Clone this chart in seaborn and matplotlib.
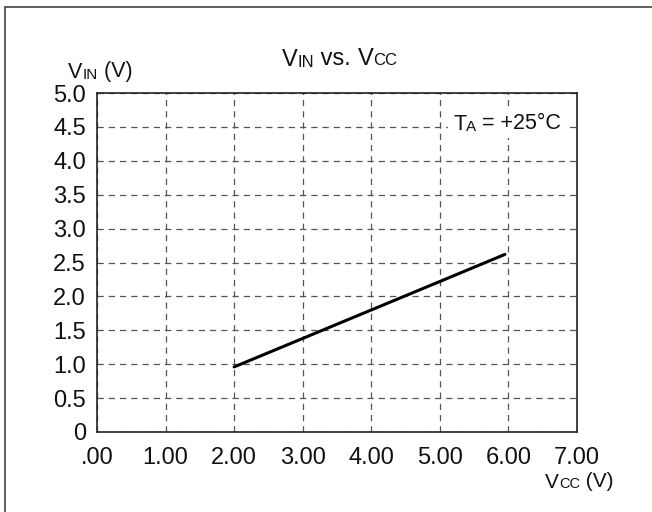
import matplotlib
matplotlib.use('Agg')
import matplotlib.pyplot as plt
from matplotlib.lines import Line2D
from matplotlib.patches import Rectangle
from matplotlib.transforms import IdentityTransform
import seaborn as sns
import pandas as pd

# data
vcc = [2.0, 3.0, 4.0, 5.0, 5.95]
vin = [0.96, 1.38, 1.80, 2.22, 2.62]
x_ticks = [0, 1, 2, 3, 4, 5, 6, 7]
x_labels = ['.00', '1.00', '2.00', '3.00', '4.00', '5.00', '6.00', '7.00']
y_ticks = [0, 0.5, 1.0, 1.5, 2.0, 2.5, 3.0, 3.5, 4.0, 4.5, 5.0]
y_labels = ['0', '0.5', '1.0', '1.5', '2.0', '2.5', '3.0', '3.5', '4.0', '4.5', '5.0']


def label_parts(ax, x, y, parts):
    # draw text pieces side by side, smaller pieces kept on the same baseline
    big = parts[0][1]
    prev = None
    for text, size in parts:
        kw = dict(fontsize=size, color='#111111', annotation_clip=False, zorder=5)
        if prev is None:
            prev = ax.annotate(text, xy=(x, y), xycoords='figure pixels',
                               ha='left', va='baseline', **kw)
        else:
            prev = ax.annotate(text, xy=(1, 0), xycoords=prev,
                               xytext=(0, 0.21 * (big - size)), textcoords='offset points',
                               ha='left', va='bottom', **kw)


df = pd.DataFrame({'vcc': vcc, 'vin': vin})

sns.set_style('white')
plt.rcParams['font.family'] = ['Liberation Sans', 'DejaVu Sans']

fig = plt.figure(figsize=(6.52, 5.12), dpi=100)
ax = fig.add_axes([97 / 652, 80 / 512, 480 / 652, 339 / 512])

sns.lineplot(data=df, x='vcc', y='vin', color='black', linewidth=2.2, ax=ax)

ax.set_xlim(0, 7)
ax.set_ylim(0, 5)
ax.set_xticks(x_ticks)
ax.set_xticklabels(x_labels)
ax.set_yticks(y_ticks)
ax.set_yticklabels(y_labels)
ax.tick_params(axis='both', length=0, labelsize=17, colors='#111111')
ax.tick_params(axis='x', pad=11)
ax.tick_params(axis='y', pad=8)
ax.set_xlabel('')
ax.set_ylabel('')

ax.grid(True, color='#555555', linestyle=(0, (5, 4)), linewidth=0.9)
for s in ax.spines.values():
    s.set_color('#222222')
    s.set_linewidth(1.2)

# white patch behind the temperature note
ax.add_patch(Rectangle((448, 374), 119, 28, transform=IdentityTransform(),
                       facecolor='white', edgecolor='none', zorder=4, clip_on=False))

# titles and labels with small-cap subscripts
label_parts(ax, 282, 446, [('V', 17), ('IN', 12), (' vs. ', 17), ('V', 17), ('CC', 12)])
label_parts(ax, 68, 434, [('V', 15.5), ('IN', 11), (' (V)', 15.5)])
label_parts(ax, 545, 24, [('V', 15), ('CC', 10.5), (' (V)', 15)])
label_parts(ax, 453, 382, [('T', 15.5), ('A', 11), (' = +25°C', 15.5)])

# outer frame (only top and left edges visible)
fig.add_artist(Line2D([5 / 652, 5 / 652], [0, 505 / 512], transform=fig.transFigure,
                      color='#444444', linewidth=1.2))
fig.add_artist(Line2D([5 / 652, 1], [505 / 512, 505 / 512], transform=fig.transFigure,
                      color='#444444', linewidth=1.2))

fig.savefig('out.png', dpi=100)
